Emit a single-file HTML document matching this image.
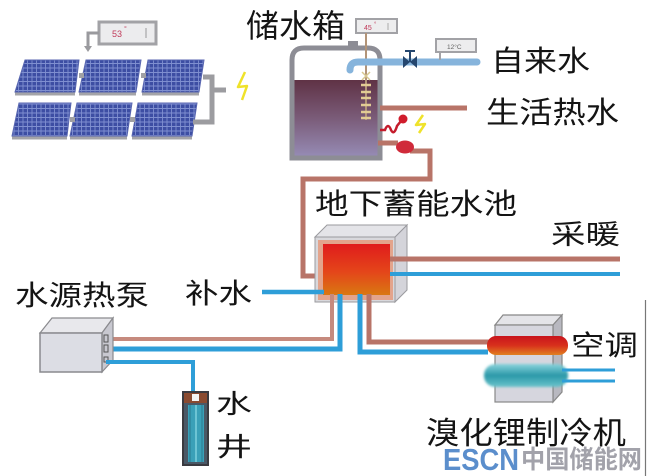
<!DOCTYPE html>
<html><head><meta charset="utf-8"><style>
html,body{margin:0;padding:0;background:#fff;}
svg{display:block;}
.t{font-family:"Liberation Sans","Noto Sans CJK SC",sans-serif;fill:#141414;}
.w{font-family:"Liberation Sans","Noto Sans CJK SC",sans-serif;}
</style></head><body>
<svg width="648" height="476" viewBox="0 0 648 476" xmlns="http://www.w3.org/2000/svg">
<defs>
<pattern id="cells" width="4.5" height="4.5" patternUnits="userSpaceOnUse">
<rect width="4.5" height="4.5" fill="#3d4ea3"/>
<path d="M0 0.5H4.5M0.5 0V4.5" stroke="#7f8fd0" stroke-width="0.9"/>
</pattern>
<linearGradient id="liq" x1="0" y1="0" x2="0" y2="1">
<stop offset="0" stop-color="#5f3245"/><stop offset="0.5" stop-color="#7a5b78"/><stop offset="1" stop-color="#958ab3"/>
</linearGradient>
<linearGradient id="pool" x1="0" y1="0" x2="0" y2="1">
<stop offset="0" stop-color="#e01c1c"/><stop offset="0.55" stop-color="#e4461a"/><stop offset="1" stop-color="#d97812"/>
</linearGradient>
<linearGradient id="redt" x1="0" y1="0" x2="0" y2="1">
<stop offset="0" stop-color="#c8141c"/><stop offset="0.5" stop-color="#d8301c"/><stop offset="1" stop-color="#e08020"/>
</linearGradient>
<linearGradient id="teal" x1="0" y1="0" x2="0" y2="1">
<stop offset="0" stop-color="#8ad4dc"/><stop offset="0.5" stop-color="#2a98a8"/><stop offset="1" stop-color="#6cc4cc"/>
</linearGradient>
<filter id="bl" x="-10%" y="-30%" width="120%" height="160%"><feGaussianBlur stdDeviation="1.2"/></filter>
</defs>

<!-- Solar thermometer -->
<rect x="99" y="22" width="57" height="22" fill="#ececee" stroke="#a2a2a6" stroke-width="3"/>
<text x="112" y="37" font-family="Liberation Sans" font-size="9" fill="#c03a5a">53</text>
<text x="124" y="31" font-family="Liberation Sans" font-size="7" fill="#c03a5a">°</text>
<line x1="146" y1="28" x2="146" y2="38" stroke="#999" stroke-width="1"/>
<path d="M99 33 H88 V48" fill="none" stroke="#9a9a9e" stroke-width="3"/>
<path d="M84 46 L88 52 L92 46 Z" fill="#9a9a9e"/>

<!-- Solar panels -->
<g stroke="#5866b0" stroke-width="1">
<polygon points="25,60 79,60 75,92 15,92" fill="url(#cells)"/>
<polygon points="86,60 141,60 136,92 79,92" fill="url(#cells)"/>
<polygon points="148,60 204,60 199,92 142,92" fill="url(#cells)"/>
<polygon points="19,103 71,103 67,136 12,136" fill="url(#cells)"/>
<polygon points="77,103 132,103 127,136 70,136" fill="url(#cells)"/>
<polygon points="138,103 197,103 192,136 132,136" fill="url(#cells)"/>
</g>
<g stroke="#a4a4a8" stroke-width="3">
<line x1="15" y1="94" x2="75" y2="94"/><line x1="79" y1="94" x2="136" y2="94"/><line x1="142" y1="94" x2="199" y2="94"/>
<line x1="12" y1="138" x2="67" y2="138"/><line x1="70" y1="138" x2="127" y2="138"/><line x1="132" y1="138" x2="192" y2="138"/>
</g>
<g fill="#a0a0a4">
<rect x="79" y="73" width="5" height="5"/><rect x="141" y="73" width="5" height="5"/>
<rect x="70" y="117" width="5" height="5"/><rect x="130" y="117" width="5" height="5"/>
</g>
<path d="M203 77 H212 V122 H193" fill="none" stroke="#9c9ca0" stroke-width="5"/>
<line x1="212" y1="90" x2="226" y2="90" stroke="#9c9ca0" stroke-width="5"/>
<polyline points="245,72 238,87 247,86 242,100" fill="none" stroke="#efe22a" stroke-width="2.5" stroke-linejoin="round"/>

<!-- Tank -->
<rect x="348" y="41" width="10" height="8" fill="#8d8d95"/>
<path d="M292 158 L292 60 Q292 48 304 48 L368 48 Q380 48 380 60 L380 158 Z" fill="#fff" stroke="#8d8d95" stroke-width="5"/>
<rect x="294.5" y="80" width="83" height="75.5" fill="url(#liq)"/>
<!-- 45 thermometer -->
<rect x="356" y="19" width="41" height="14" fill="#ededee" stroke="#a2a2a6" stroke-width="2"/>
<text x="364" y="30" font-family="Liberation Sans" font-size="7" fill="#c03a5a">45</text>
<text x="374" y="26" font-family="Liberation Sans" font-size="6" fill="#c03a5a">°</text>
<line x1="388" y1="23" x2="388" y2="30" stroke="#999" stroke-width="0.8"/>
<line x1="366" y1="33" x2="366" y2="120" stroke="#b29478" stroke-width="2"/>
<g stroke="#e2cc94" stroke-width="2.5">
<line x1="361" y1="85" x2="371" y2="85"/><line x1="361" y1="92" x2="371" y2="92"/><line x1="361" y1="98" x2="371" y2="98"/>
<line x1="361" y1="105" x2="371" y2="105"/><line x1="361" y1="112" x2="371" y2="112"/><line x1="361" y1="118" x2="371" y2="118"/>
</g>
<path d="M362 72 L370 80 M370 72 L362 80" stroke="#d8c890" stroke-width="1.5"/>

<!-- Tap water pipe -->
<path d="M350 70 Q350 62 358 62 L477 62" fill="none" stroke="#86b4dc" stroke-width="7" stroke-linecap="round"/>
<path d="M403 56 L417 68 L417 56 L403 68 Z" fill="#24466e"/>
<line x1="410" y1="62" x2="410" y2="51" stroke="#24466e" stroke-width="2"/>
<line x1="405" y1="51" x2="415" y2="51" stroke="#24466e" stroke-width="2"/>
<rect x="436" y="39" width="40" height="13" fill="#ededee" stroke="#a2a2a6" stroke-width="2"/>
<text x="447" y="49" font-family="Liberation Sans" font-size="6.5" fill="#666">12°C</text>
<line x1="440" y1="52" x2="440" y2="60" stroke="#a2a2a6" stroke-width="2"/>

<!-- Hot water pipe -->
<line x1="380" y1="108" x2="467" y2="108" stroke="#b87468" stroke-width="5"/>
<!-- heater coil -->
<path d="M380 130 L385 130 Q388 122 391 130 Q394 136 397 126 L401 121" fill="none" stroke="#c41c2c" stroke-width="2.5"/>
<circle cx="403" cy="119" r="4.5" fill="#d01c2c"/>
<polyline points="423,115 416,125 425,124 419,133" fill="none" stroke="#efe22a" stroke-width="2.5" stroke-linejoin="round"/>

<!-- loop to pool -->
<path d="M378 143 L398 143" stroke="#b87468" stroke-width="5"/>
<path d="M410 151 L430 151 L430 179 L303 179 L303 276 L322 276" fill="none" stroke="#b87468" stroke-width="5"/>
<ellipse cx="405" cy="147" rx="9" ry="6.5" fill="#d02a3a"/>

<!-- Pool -->
<polygon points="395,237 407,225 407,290 395,302" fill="#d4d4da" stroke="#9a9a9e" stroke-width="1"/>
<polygon points="315,237 327,225 407,225 395,237" fill="#e4e4e8" stroke="#9a9a9e" stroke-width="1"/>
<rect x="315" y="237" width="80" height="65" fill="#d8d8dc" stroke="#9a9a9e" stroke-width="1"/>
<rect x="318" y="240" width="75" height="60" fill="#e3a48c"/>
<rect x="323" y="244" width="67" height="51" fill="url(#pool)"/>

<!-- heating pipes -->
<line x1="390" y1="259" x2="620" y2="259" stroke="#b87468" stroke-width="5"/>
<line x1="390" y1="274" x2="620" y2="274" stroke="#2e9ed8" stroke-width="4"/>
<!-- make-up water -->
<line x1="262" y1="292" x2="324" y2="292" stroke="#2e9ed8" stroke-width="4.5"/>

<!-- pipes below pool -->
<path d="M332 294 L332 339 L106 339" fill="none" stroke="#c68a7e" stroke-width="4"/>
<path d="M340 294 L340 349 L106 349" fill="none" stroke="#2e9ed8" stroke-width="5"/>
<path d="M360 294 L360 352 L488 352" fill="none" stroke="#2e9ed8" stroke-width="5"/>
<path d="M369 294 L369 342 L490 342" fill="none" stroke="#b87468" stroke-width="5"/>

<!-- Heat pump -->
<polygon points="40,333 52,318 113,318 102,333" fill="#e8e8ec" stroke="#8a8a8e" stroke-width="1.2"/>
<polygon points="102,333 113,318 113,360 102,372" fill="#c8c8d0" stroke="#8a8a8e" stroke-width="1.2"/>
<rect x="40" y="333" width="62" height="39" fill="#dcdde4" stroke="#8a8a8e" stroke-width="1.5"/>
<g fill="none" stroke="#555" stroke-width="1">
<rect x="104" y="335" width="4" height="7"/><rect x="104" y="345" width="4" height="7"/><rect x="104" y="357" width="4" height="5"/>
</g>
<path d="M106 362 L193 362 L193 396" fill="none" stroke="#2e9ed8" stroke-width="4"/>

<!-- Well -->
<rect x="183" y="392" width="25" height="73" fill="#4a5866" stroke="#3a3a40" stroke-width="2"/>
<rect x="184" y="393" width="23" height="10" fill="#8a4a30"/>
<rect x="192" y="394" width="7" height="7" fill="#f4f4f4"/>
<rect x="188" y="405" width="16" height="57" fill="#3aa0b8"/>
<line x1="196" y1="405" x2="196" y2="462" stroke="#6cc4d4" stroke-width="2"/>
<line x1="190" y1="405" x2="190" y2="462" stroke="#2a7a90" stroke-width="1"/>
<line x1="202" y1="405" x2="202" y2="462" stroke="#2a7a90" stroke-width="1"/>

<!-- Chiller -->
<polygon points="495,325 503,315 562,315 553,325" fill="#e4e4e8" stroke="#888" stroke-width="1.2"/>
<polygon points="553,325 562,315 562,392 553,402" fill="#b8b8c0" stroke="#888" stroke-width="1.2"/>
<rect x="495" y="325" width="58" height="77" fill="#d6d6de" stroke="#888" stroke-width="1.2"/>
<rect x="487" y="336" width="81" height="19" rx="9" fill="url(#redt)"/>
<rect x="484" y="364" width="84" height="23" rx="11" fill="url(#teal)" filter="url(#bl)"/>
<line x1="562" y1="370" x2="615" y2="370" stroke="#2e9ed8" stroke-width="3"/>
<line x1="562" y1="381" x2="615" y2="381" stroke="#2e9ed8" stroke-width="3"/>

<line x1="645.5" y1="300" x2="645.5" y2="476" stroke="#777" stroke-width="1.2"/>

<!-- Labels -->
<text class="t" x="246" y="37" font-size="32" textLength="99" lengthAdjust="spacingAndGlyphs">储水箱</text>
<text class="t" x="491" y="71" font-size="29" textLength="99" lengthAdjust="spacingAndGlyphs">自来水</text>
<text class="t" x="486" y="123" font-size="30" textLength="133" lengthAdjust="spacingAndGlyphs">生活热水</text>
<text class="t" x="315" y="214" font-size="29" textLength="202" lengthAdjust="spacingAndGlyphs">地下蓄能水池</text>
<text class="t" x="551" y="244" font-size="27" textLength="69" lengthAdjust="spacingAndGlyphs">采暖</text>
<text class="t" x="185" y="303" font-size="28" textLength="67" lengthAdjust="spacingAndGlyphs">补水</text>
<text class="t" x="15" y="305" font-size="28" textLength="134" lengthAdjust="spacingAndGlyphs">水源热泵</text>
<text class="t" x="571" y="355" font-size="28" textLength="67" lengthAdjust="spacingAndGlyphs">空调</text>
<text class="t" x="216" y="413" font-size="26" textLength="36" lengthAdjust="spacingAndGlyphs">水</text>
<text class="t" x="216" y="456" font-size="26" textLength="36" lengthAdjust="spacingAndGlyphs">井</text>
<text class="t" x="426" y="444" font-size="31" textLength="200" lengthAdjust="spacingAndGlyphs">溴化锂制冷机</text>

<!-- watermark -->
<text x="443" y="470" font-family="Liberation Sans" font-weight="bold" font-size="31" fill="#5b8ecc" textLength="76" lengthAdjust="spacingAndGlyphs">ESCN</text>
<text class="w" x="521" y="468" font-weight="bold" font-size="25" fill="#a2a2aa" textLength="121" lengthAdjust="spacingAndGlyphs">中国储能网</text>
</svg>
</body></html>
